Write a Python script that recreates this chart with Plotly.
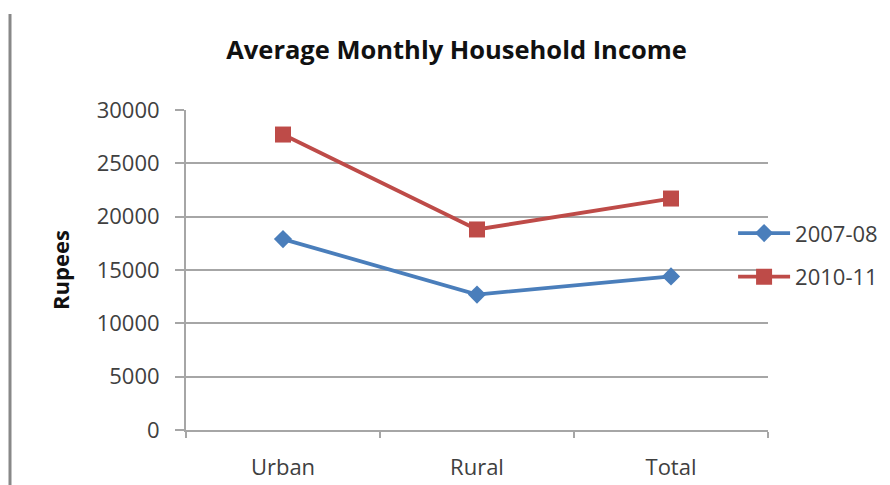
import plotly.graph_objects as go

categories = ["Urban", "Rural", "Total"]
income_2007_08 = [17900, 12700, 14400]
income_2010_11 = [27700, 18800, 21700]
y_ticks = [0, 5000, 10000, 15000, 20000, 25000, 30000]

FONT = "Open Sans"
TXT = "#404040"
GRID = "#a6a6a6"

fig = go.Figure()
fig.add_trace(go.Scatter(
    x=categories, y=income_2007_08, name="2007-08", mode="lines+markers",
    line=dict(color="#4a7ebb", width=3.8),
    marker=dict(symbol="diamond", size=14, color="#4a7ebb"),
    legendgroup="a",
))
fig.add_trace(go.Scatter(
    x=categories, y=income_2010_11, name="2010-11", mode="lines+markers",
    line=dict(color="#be4b48", width=3.8),
    marker=dict(symbol="square", size=16, color="#be4b48"),
    legendgroup="b",
))

fig.update_layout(
    width=890, height=485,
    margin=dict(l=178, r=130, t=102, b=60),
    paper_bgcolor="white", plot_bgcolor="white",
    title=dict(text="<b>Average Monthly Household Income</b>", x=0.504, xanchor="center",
               y=0.913, yanchor="middle",
               font=dict(family=FONT, size=25.5, color="#111111")),
    font=dict(family=FONT, size=22, color=TXT),
    legend=dict(x=0.94, y=0.546, xanchor="left", yanchor="middle",
                bgcolor="rgba(0,0,0,0)", tracegroupgap=12,
                font=dict(family=FONT, size=22, color=TXT), itemwidth=52),
    showlegend=True,
)
fig.update_xaxes(
    type="category", tickson="boundaries", showgrid=False,
    showline=True, linecolor=GRID, linewidth=2,
    ticks="outside", ticklen=6, tickcolor=GRID, tickwidth=2,
    ticklabelstandoff=17,
    tickfont=dict(family=FONT, size=22, color=TXT),
    range=[-0.5, 2.5],
)
fig.update_yaxes(
    range=[0, 30000], tickvals=y_ticks, ticktext=[str(v) for v in y_ticks],
    showgrid=True, gridcolor=GRID, gridwidth=2,
    showline=True, linecolor=GRID, linewidth=2,
    ticks="outside", ticklen=9, tickcolor=GRID, tickwidth=2,
    ticklabelstandoff=11,
    tickfont=dict(family=FONT, size=22, color=TXT),
    title=dict(text="<b>Rupees</b>", font=dict(family=FONT, size=22, color="#111111"), standoff=21),
    zeroline=False,
)
fig.add_shape(type="line", xref="paper", yref="paper", x0=-0.3024, x1=-0.3024, y0=-0.2, y1=1.30,
              line=dict(color="#888888", width=3))

fig.write_html("out.html")
